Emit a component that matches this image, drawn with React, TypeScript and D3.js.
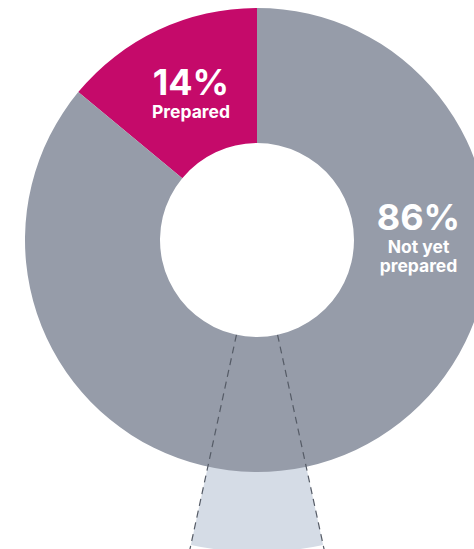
import React from "react";
import * as d3 from "d3";

const categories = ["Prepared", "Not yet prepared"];
const values = [14, 86];
const percentLabels = ["14%", "86%"];
const nameLines = [["Prepared"], ["Not yet", "prepared"]];
const colors = ["#C50A6A", "#969CA9"];
const detailShare = 6.8; // percent of the circle highlighted below the donut

const W = 474;
const H = 549;
const cx = 257;
const cy = 240;
const R = 232;
const r = 97;
const detailOuter = 312;

export default function App() {
  const start = -(values[0] / 100) * 2 * Math.PI;
  const pie = d3
    .pie<number>()
    .sort(null)
    .value((d) => d)
    .startAngle(start)
    .endAngle(start + 2 * Math.PI);
  const arcs = pie(values);
  const arc = d3.arc<d3.PieArcDatum<number>>().innerRadius(r).outerRadius(R);

  const half = (detailShare / 100) * Math.PI;
  const detailArc = d3.arc()({
    innerRadius: R - 5,
    outerRadius: detailOuter,
    startAngle: Math.PI - half,
    endAngle: Math.PI + half,
  } as any) as string;

  const lineAngles = [Math.PI - half, Math.PI + half];
  const lineEnd = 340;

  const midR = (r + R) / 2;
  const labelAngles = [
    (arcs[0].startAngle + arcs[0].endAngle) / 2,
    Math.PI / 2,
  ];
  const font = "Inter, 'Noto Sans', sans-serif";

  return (
    <svg
      width={W}
      height={H}
      style={{ position: "absolute", left: 0, top: 0 }}
    >
      <g transform={`translate(${cx},${cy})`}>
        <path d={detailArc} fill="#D5DCE6" />
        {arcs.map((a, i) => (
          <path key={categories[i]} d={arc(a) as string} fill={colors[i]} />
        ))}
        {lineAngles.map((ang, i) => (
          <line
            key={i}
            x1={r * Math.sin(ang)}
            y1={-r * Math.cos(ang)}
            x2={lineEnd * Math.sin(ang)}
            y2={-lineEnd * Math.cos(ang)}
            stroke="#555B66"
            strokeWidth={1.2}
            strokeDasharray="7,5"
          />
        ))}
        {arcs.map((a, i) => {
          const ang = labelAngles[i];
          const x = midR * Math.sin(ang) + (i === 0 ? 4 : -3);
          const y = -midR * Math.cos(ang) + (i === 0 ? 4 : -10);
          return (
            <g key={"l" + i} fill="#fff" fontFamily={font} fontWeight={700} textAnchor="middle">
              <text x={x} y={y} fontSize={36}>
                {percentLabels[i]}
              </text>
              {nameLines[i].map((t, j) => (
                <text key={j} x={x} y={y + 23 + j * 19} fontSize={17.5}>
                  {t}
                </text>
              ))}
            </g>
          );
        })}
      </g>
    </svg>
  );
}
